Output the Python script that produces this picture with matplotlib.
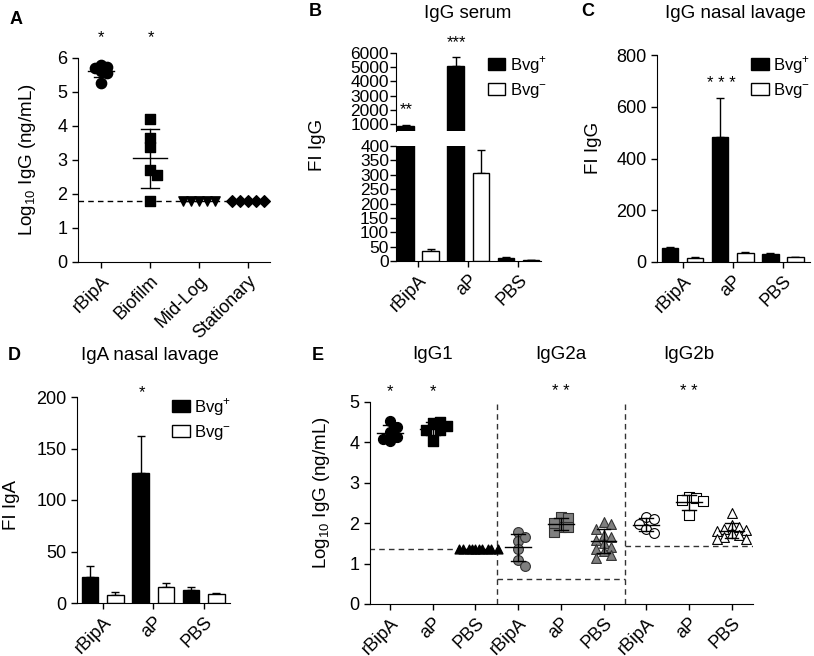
import matplotlib
matplotlib.use('Agg')
import matplotlib.pyplot as plt
import numpy as np
from matplotlib.patches import Patch

plt.rcParams['font.family'] = ['Liberation Sans', 'DejaVu Sans']
plt.rcParams['mathtext.fontset'] = 'custom'
plt.rcParams['mathtext.rm'] = 'Liberation Sans'
plt.rcParams['font.size'] = 10

W, H = 814, 656

# ---- data ----
# Panel A: Log10 IgG (ng/mL)
a_groups = ['rBipA', 'Biofilm', 'Mid-Log', 'Stationary']
a_rbipa = [5.63, 5.73, 5.57, 5.79, 5.70, 5.27]
a_biofilm = [4.22, 3.64, 3.39, 2.71, 2.56, 1.80]
a_midlog = [1.8, 1.8, 1.8, 1.8, 1.8]
a_stationary = [1.8, 1.8, 1.8, 1.8, 1.8]
a_limit = 1.8

# Panels B-D: FI (mean, error) for Bvg+ / Bvg-
bar_groups = ['rBipA', 'aP', 'PBS']
b_pos = [820, 5050, 12]
b_pos_err = [90, 680, 2]
b_neg = [36, 307, 2]
b_neg_err = [7, 78, 1]
c_pos = [53, 484, 31]
c_pos_err = [6, 148, 3]
c_neg = [17, 34, 19]
c_neg_err = [2, 3, 2]
d_pos = [25, 126, 13]
d_pos_err = [11, 36, 3]
d_neg = [8, 16, 9]
d_neg_err = [3, 3, 1]

# Panel E: Log10 IgG (ng/mL) by subclass
e_subclasses = ['IgG1', 'IgG2a', 'IgG2b']
e_ticks = ['rBipA', 'aP', 'PBS'] * 3
e_igg1_rbipa = [4.54, 4.37, 4.25, 4.14, 4.04, 4.08]
e_igg1_ap = [4.47, 4.51, 4.31, 4.31, 4.04, 4.40]
e_igg1_pbs = [1.35] * 10
e_igg2a_rbipa = [1.79, 1.57, 1.65, 1.36, 1.09, 0.94]
e_igg2a_ap = [2.15, 2.12, 1.91, 1.90, 1.77, 2.01]
e_igg2a_pbs = [2.02, 1.98, 1.85, 1.72, 1.65, 1.58, 1.50, 1.42, 1.35, 1.30, 1.22, 1.15]
e_igg2b_rbipa = [2.15, 2.10, 1.98, 1.85, 1.75]
e_igg2b_ap = [2.65, 2.62, 2.58, 2.55, 2.20]
e_igg2b_pbs = [2.25, 1.95, 1.90, 1.86, 1.82, 1.80, 1.75, 1.70, 1.66, 1.62, 1.60]
e_limits = [1.37, 0.62, 1.43]


def box(l, t, r, b):
    return [l / W, 1 - b / H, (r - l) / W, (b - t) / H]


def ftext(x, y, s, **kw):
    fig.text(x / W, 1 - y / H, s, **kw)


def swarm(vals, dx, dy):
    placed, offs = [], []
    cands = [0.0] + [s * i * dx for i in range(1, 30) for s in (1, -1)]
    for v in vals:
        for c in cands:
            if all(((c - px) / dx) ** 2 + ((v - py) / dy) ** 2 >= 1 for px, py in placed):
                break
        placed.append((c, v))
        offs.append(c)
    return np.array(offs)


def scatter_group(ax, x, vals, dx, dy, mean_w=0.3, cap_w=0.16, **kw):
    vals = np.asarray(vals, float)
    ax.scatter(x + swarm(vals, dx, dy), vals, zorder=3, **kw)
    m, sd = vals.mean(), vals.std(ddof=1)
    ax.plot([x - mean_w, x + mean_w], [m, m], color='black', lw=1, zorder=4)
    if sd > 0:
        ax.plot([x, x], [m - sd, m + sd], color='black', lw=1, zorder=4)
        for yv in (m - sd, m + sd):
            ax.plot([x - cap_w, x + cap_w], [yv, yv], color='black', lw=1, zorder=4)


def style(ax):
    for s in ('top', 'right'):
        ax.spines[s].set_visible(False)
    ax.tick_params(direction='out', length=4, width=1, labelsize=13)


def bars(ax, pos, pos_err, neg, neg_err):
    x = np.arange(len(pos))
    w = 0.33
    ax.bar(x - 0.25, pos, w, color='black', edgecolor='black', lw=1, zorder=2)
    ax.bar(x + 0.25, neg, w, color='white', edgecolor='black', lw=1, zorder=2)
    ax.errorbar(x - 0.25, pos, yerr=[np.zeros(len(pos)), pos_err], fmt='none',
                ecolor='black', elinewidth=1, capsize=3, zorder=1)
    ax.errorbar(x + 0.25, neg, yerr=[np.zeros(len(neg)), neg_err], fmt='none',
                ecolor='black', elinewidth=1, capsize=3, zorder=1)
    return x


def xlabels(ax, labels):
    ax.set_xticklabels(labels, rotation=45, ha='right', rotation_mode='anchor',
                       fontsize=13)


def bvg_legend(x, y):
    handles = [Patch(facecolor='black', edgecolor='black', label=r'Bvg$^{+}$'),
               Patch(facecolor='white', edgecolor='black', label=r'Bvg$^{-}$')]
    fig.legend(handles=handles, loc='upper left', bbox_to_anchor=(x / W, 1 - y / H),
               frameon=False, fontsize=12, borderpad=0, handlelength=1.05,
               handleheight=0.75, handletextpad=0.25, labelspacing=0.3, borderaxespad=0)


fig = plt.figure(figsize=(W / 100, H / 100), dpi=100)

# ---- A ----
ax = fig.add_axes(box(78, 58, 270, 262))
style(ax)
ax.set_xlim(-0.47, 3.45)
ax.set_ylim(0, 6)
ax.axhline(a_limit, color='black', lw=1, ls=(0, (4, 3)), zorder=1)
scatter_group(ax, 0, a_rbipa, 0.12, 0.16, mean_w=0.26, cap_w=0.14, marker='o', s=55, color='black')
scatter_group(ax, 1, a_biofilm, 0.14, 0.2, mean_w=0.34, cap_w=0.18, marker='s', s=50, color='black')
scatter_group(ax, 2, a_midlog, 0.16, 0.2, marker='v', s=45, color='black')
scatter_group(ax, 3, a_stationary, 0.16, 0.2, marker='D', s=35, color='black')
ax.set_xticks(range(4))
xlabels(ax, a_groups)
ax.set_yticks(range(7))
ftext(101, 38, '*', ha='center', va='center', fontsize=12)
ftext(151, 38, '*', ha='center', va='center', fontsize=12)
ftext(28, 160, r'Log$_{10}$ IgG (ng/mL)', rotation=90, ha='center', va='center', fontsize=13.5)
ftext(10, 20, 'A', fontweight='bold', fontsize=13, ha='left', va='center')

# ---- B (broken axis) ----
axl = fig.add_axes(box(396, 146, 541, 261))
axu = fig.add_axes(box(396, 53, 541, 131))
for a in (axl, axu):
    style(a)
    bars(a, b_pos, b_pos_err, b_neg, b_neg_err)
    a.set_xlim(-0.44, 2.45)
    a.tick_params(axis='y', labelsize=12.5, length=4, pad=1)
axl.set_ylim(0, 400)
axl.set_yticks(range(0, 401, 50))
axl.set_xticks(range(3))
xlabels(axl, bar_groups)
axu.set_ylim(500, 6000)
axu.set_yticks(range(1000, 6001, 1000))
axu.spines['bottom'].set_visible(False)
axu.set_xticks([])
ftext(406, 110, '**', ha='center', va='center', fontsize=12)
ftext(456, 43, '***', ha='center', va='center', fontsize=12)
ftext(317, 145, 'FI IgG', rotation=90, ha='center', va='center', fontsize=13.5)
ftext(309, 12, 'B', fontweight='bold', fontsize=13, ha='left', va='center')
ftext(468, 13, 'IgG serum', ha='center', va='center', fontsize=13.5)
bvg_legend(488, 54)

# ---- C ----
ax = fig.add_axes(box(657, 55, 810, 262))
style(ax)
bars(ax, c_pos, c_pos_err, c_neg, c_neg_err)
ax.set_xlim(-0.51, 2.54)
ax.set_ylim(0, 800)
ax.set_yticks(range(0, 801, 200))
ax.set_xticks(range(3))
xlabels(ax, bar_groups)
ftext(721, 84, '* * *', ha='center', va='center', fontsize=12)
ftext(593, 148, 'FI IgG', rotation=90, ha='center', va='center', fontsize=13.5)
ftext(581, 12, 'C', fontweight='bold', fontsize=13, ha='left', va='center')
ftext(735, 13, 'IgG nasal lavage', ha='center', va='center', fontsize=13.5)
bvg_legend(751, 54)

# ---- D ----
ax = fig.add_axes(box(77, 397, 230, 603))
style(ax)
bars(ax, d_pos, d_pos_err, d_neg, d_neg_err)
ax.set_xlim(-0.51, 2.52)
ax.set_ylim(0, 200)
ax.set_yticks(range(0, 201, 50))
ax.set_xticks(range(3))
xlabels(ax, bar_groups)
ftext(142, 393, '*', ha='center', va='center', fontsize=12)
ftext(12, 505, 'FI IgA', rotation=90, ha='center', va='center', fontsize=13.5)
ftext(8, 355, 'D', fontweight='bold', fontsize=13, ha='left', va='center')
ftext(150, 356, 'IgA nasal lavage', ha='center', va='center', fontsize=13.5)
bvg_legend(172, 396)

# ---- E ----
ax = fig.add_axes(box(370, 402, 753, 604))
style(ax)
ax.set_xlim(-0.47, 8.5)
ax.set_ylim(0, 5)
dash = (0, (4, 3))
for i, lim in enumerate(e_limits):
    ax.plot([3 * i - 0.5, 3 * i + 2.5], [lim, lim], color='#333333', lw=1, ls=dash, zorder=1)
for xv in (2.5, 5.5):
    ax.plot([xv, xv], [0, 4.95], color='#333333', lw=1, ls=dash, zorder=1)
dxE, dyE = 0.17, 0.18
black = dict(color='black')
gray = dict(facecolor='#7f7f7f', edgecolor='#333333', linewidths=0.8)
open_ = dict(facecolor='white', edgecolor='black', linewidths=0.8)
scatter_group(ax, 0, e_igg1_rbipa, dxE, dyE, marker='o', s=50, **black)
scatter_group(ax, 1, e_igg1_ap, dxE, dyE, marker='s', s=50, **black)
scatter_group(ax, 2, e_igg1_pbs, 0.075, dyE, marker='^', s=40, **black)
scatter_group(ax, 3, e_igg2a_rbipa, dxE, dyE, marker='o', s=50, **gray)
scatter_group(ax, 4, e_igg2a_ap, dxE, dyE, marker='s', s=50, **gray)
scatter_group(ax, 5, e_igg2a_pbs, dxE, dyE, marker='^', s=50, **gray)
scatter_group(ax, 6, e_igg2b_rbipa, dxE, dyE, marker='o', s=50, **open_)
scatter_group(ax, 7, e_igg2b_ap, dxE, dyE, marker='s', s=50, **open_)
scatter_group(ax, 8, e_igg2b_pbs, dxE, dyE, marker='^', s=50, **open_)
ax.set_xticks(range(9))
xlabels(ax, e_ticks)
ax.set_yticks(range(6))
for xi, star in ((0, '*'), (1, '*'), (4, '* *'), (7, '* *')):
    ax.text(xi, 5.25, star, ha='center', va='center', fontsize=12, clip_on=False)
for i, name in enumerate(e_subclasses):
    ax.text(3 * i + 1, 6.17, name, ha='center', va='center', fontsize=13.5, clip_on=False)
ftext(322, 493, r'Log$_{10}$ IgG (ng/mL)', rotation=90, ha='center', va='center', fontsize=13.5)
ftext(312, 355, 'E', fontweight='bold', fontsize=13, ha='left', va='center')

fig.savefig('out.png', dpi=100)
